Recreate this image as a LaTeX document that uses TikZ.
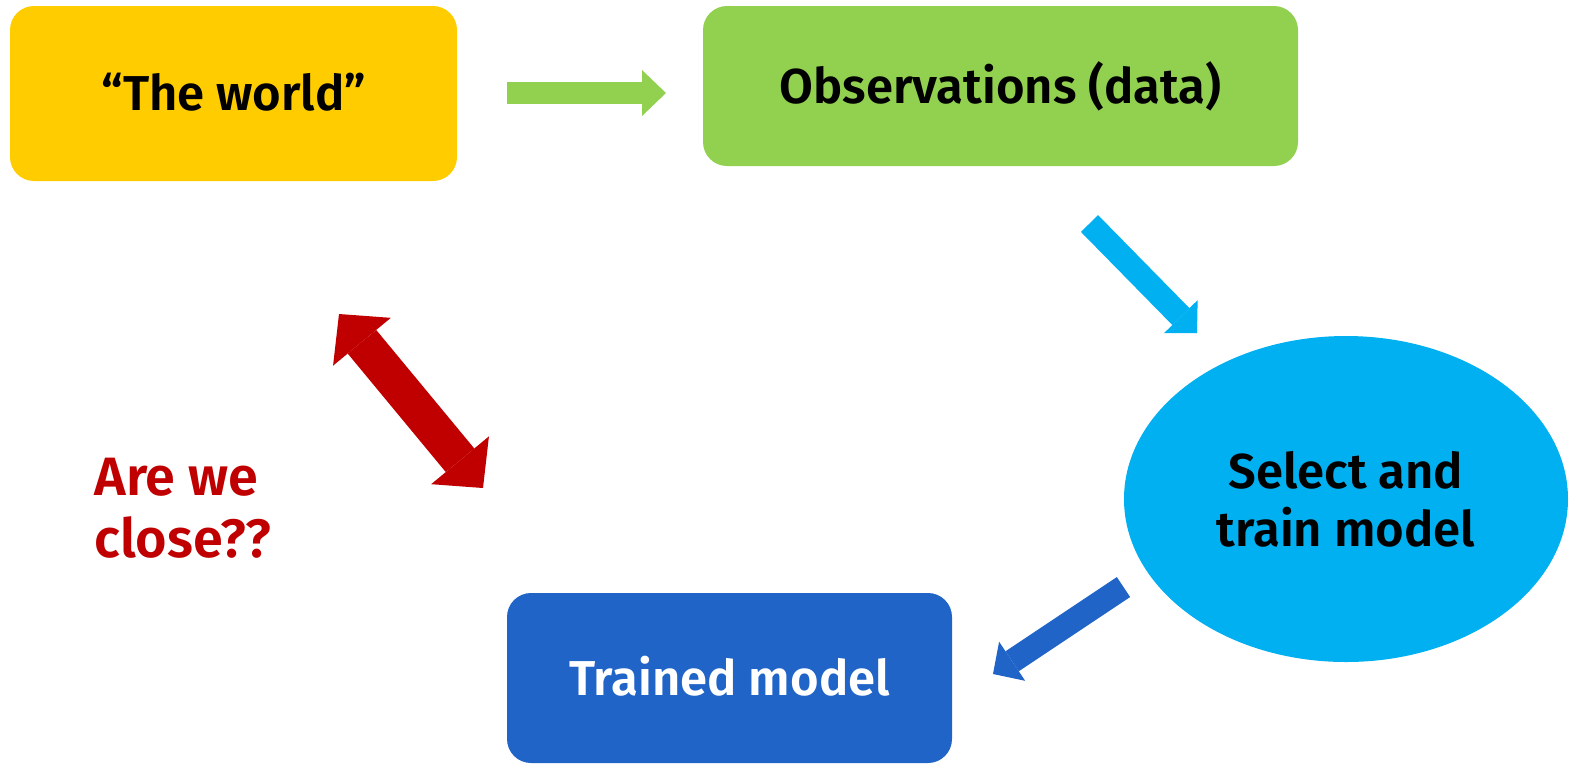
\documentclass[tikz,border=0pt]{standalone}
\usepackage{fontspec}
\setmainfont{Fira Sans}[BoldFont={Fira Sans SemiBold}]
\usetikzlibrary{arrows.meta,shapes.geometric}

\definecolor{worldyellow}{HTML}{FFCC00}
\definecolor{obsgreen}{HTML}{92D050}
\definecolor{fitcyan}{HTML}{00B0F0}
\definecolor{modelblue}{HTML}{2064C8}
\definecolor{closered}{HTML}{C00000}

\tikzset{
  box/.style={rounded corners=12pt, align=center, inner sep=0pt,
    font=\fontsize{24.5pt}{29pt}\selectfont\bfseries},
  oneline/.style={text height=17pt, text depth=0pt},
  flow/.style={line width=12pt, -{Triangle[length=11.5pt,width=23.5pt,line width=0pt]}},
}

\begin{document}
\begin{tikzpicture}[x=0.5pt,y=-0.5pt]
\useasboundingbox (0,0) rectangle (1576,768);

% Boxes
\node[box, oneline, fill=worldyellow, minimum width=223.5pt, minimum height=87.5pt] (world) at (233.5,93.5) {``The world''};
\node[box, oneline, fill=obsgreen, minimum width=297.5pt, minimum height=80pt] (obs) at (1000.5,86) {Observations (data)};
\node[box, ellipse, rounded corners=0pt, fill=fitcyan, minimum width=222pt, minimum height=163pt] (fit) at (1346,499) {Select and\\train model};
\node[box, oneline, fill=modelblue, text=white, minimum width=222.5pt, minimum height=85pt] (trained) at (729.5,678) {Trained model};

% Question
\node[box, align=left, text=closered, anchor=north west,
  font=\fontsize{27pt}{31pt}\selectfont\bfseries] (close) at (94,458) {Are we\\close??};

% Arrow ends
\coordinate (g1) at (507,93);
\coordinate (g2) at (666,93);
\coordinate (c1) at (1089.5,223.5);
\coordinate (c2) at (1197,333);
\coordinate (b1) at (1123.5,587);
\coordinate (b2) at (993,674);
\coordinate (r1) at (339,314);
\coordinate (r2) at (483,488);

% Arrows
\draw[flow, obsgreen, line width=11pt, -{Triangle[length=12pt,width=23pt,line width=0pt]}] (g1) -- (g2);
\draw[flow, fitcyan] (c1) -- (c2);
\draw[flow, modelblue] (b1) -- (b2);
\draw[closered, line width=18.5pt, {Triangle[length=18pt,width=37.5pt,line width=0pt]}-{Triangle[length=18pt,width=37.5pt,line width=0pt]}] (r1) -- (r2);

\end{tikzpicture}
\end{document}
